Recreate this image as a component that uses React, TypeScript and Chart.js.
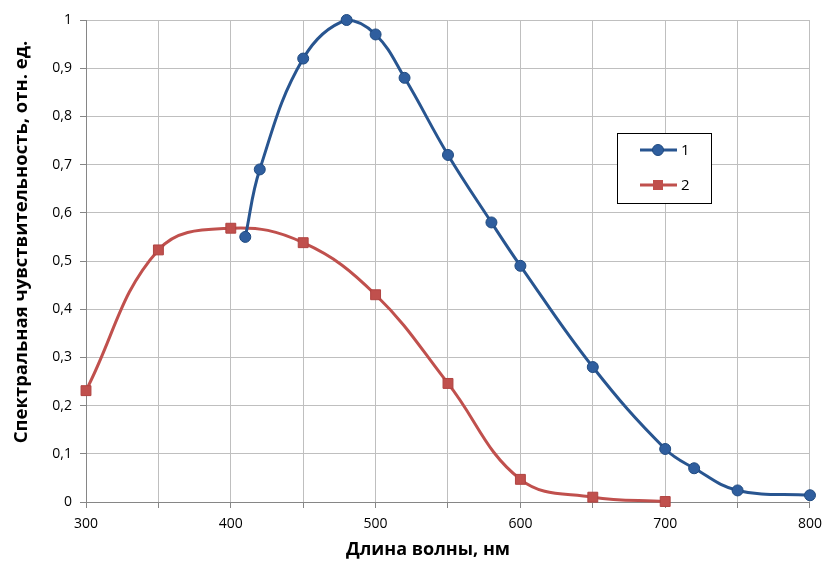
import React, { useEffect, useRef } from "react";
import { Chart, registerables } from "chart.js";

Chart.register(...registerables);

const wavelengths1 = [410, 420, 450, 480, 500, 520, 550, 580, 600, 650, 700, 720, 750, 800];
const values1 = [0.55, 0.69, 0.92, 1.0, 0.97, 0.88, 0.72, 0.58, 0.49, 0.28, 0.11, 0.07, 0.024, 0.014];
const wavelengths2 = [300, 350, 400, 450, 500, 550, 600, 650, 700];
const values2 = [0.231, 0.523, 0.568, 0.538, 0.43, 0.246, 0.047, 0.01, 0.001];
const seriesNames = ["1", "2"];
const xTitle = "Длина волны, нм";
const yTitle = "Спектральная чувствительность, отн. ед.";

const BLUE_LINE = "#285590";
const BLUE_FILL = "#2F5E9E";
const BLUE_BORDER = "#1F4A80";
const RED_LINE = "#C0504D";
const RED_FILL = "#C0504D";
const RED_BORDER = "#B04340";
const FONT = "'Open Sans', 'Noto Sans', sans-serif";

const titlesPlugin = {
  id: "axisTitles",
  afterDraw(chart: any) {
    const ctx = chart.ctx;
    ctx.save();
    ctx.fillStyle = "#000000";
    ctx.textAlign = "center";
    ctx.textBaseline = "middle";
    ctx.font = `bold 18px ${FONT}`;
    ctx.fillText(xTitle, 428, 550);
    ctx.translate(22, 242);
    ctx.rotate(-Math.PI / 2);
    ctx.font = `bold 18.5px ${FONT}`;
    ctx.fillText(yTitle, 0, 0);
    ctx.restore();
  },
};

const legendPlugin = {
  id: "boxLegend",
  afterDraw(chart: any) {
    const ctx = chart.ctx;
    const bx = 617, by = 133, bw = 94, bh = 70;
    ctx.save();
    ctx.fillStyle = "#ffffff";
    ctx.fillRect(bx, by, bw, bh);
    ctx.strokeStyle = "#000000";
    ctx.lineWidth = 1;
    ctx.strokeRect(bx + 0.5, by + 0.5, bw, bh);
    const rows = [
      { y: 150, color: BLUE_LINE, fill: BLUE_FILL, border: BLUE_BORDER, shape: "circle", label: seriesNames[0] },
      { y: 185, color: RED_LINE, fill: RED_FILL, border: RED_BORDER, shape: "rect", label: seriesNames[1] },
    ];
    rows.forEach((r) => {
      ctx.strokeStyle = r.color;
      ctx.lineWidth = 3;
      ctx.beginPath();
      ctx.moveTo(640, r.y);
      ctx.lineTo(677, r.y);
      ctx.stroke();
      ctx.fillStyle = r.fill;
      ctx.strokeStyle = r.border;
      ctx.lineWidth = 1;
      if (r.shape === "circle") {
        ctx.beginPath();
        ctx.arc(658, r.y, 5.5, 0, Math.PI * 2);
        ctx.fill();
        ctx.stroke();
      } else {
        ctx.fillRect(653, r.y - 5, 10, 10);
      }
      ctx.fillStyle = "#000000";
      ctx.font = `15px ${FONT}`;
      ctx.textBaseline = "middle";
      ctx.textAlign = "left";
      ctx.fillText(r.label, 681, r.y + 1);
    });
    ctx.restore();
  },
};

export default function App() {
  const ref = useRef<HTMLCanvasElement | null>(null);
  useEffect(() => {
    if (!ref.current) return;
    const chart = new Chart(ref.current, {
      type: "line",
      data: {
        datasets: [
          {
            label: seriesNames[0],
            data: wavelengths1.map((x, i) => ({ x, y: values1[i] })),
            borderColor: BLUE_LINE,
            backgroundColor: BLUE_FILL,
            pointBackgroundColor: BLUE_FILL,
            pointBorderColor: BLUE_BORDER,
            pointBorderWidth: 1,
            pointRadius: 5.5,
            pointStyle: "circle",
            borderWidth: 3,
            tension: 0.4,
            clip: false as any,
          },
          {
            label: seriesNames[1],
            data: wavelengths2.map((x, i) => ({ x, y: values2[i] })),
            borderColor: RED_LINE,
            backgroundColor: RED_FILL,
            pointBackgroundColor: RED_FILL,
            pointBorderColor: RED_BORDER,
            pointBorderWidth: 1,
            pointRadius: 7,
            pointStyle: "rect",
            borderWidth: 3,
            tension: 0.4,
            clip: false as any,
          },
        ],
      },
      options: {
        animation: false,
        responsive: false,
        maintainAspectRatio: false,
        layout: { padding: { top: 20, right: 17, left: 0, bottom: 0 } },
        plugins: { legend: { display: false }, tooltip: { enabled: false } },
        scales: {
          x: {
            type: "linear",
            min: 300,
            max: 800,
            ticks: {
              stepSize: 50,
              autoSkip: false,
              maxRotation: 0,
              color: "#000000",
              font: { family: FONT, size: 14 },
              padding: 8,
              callback: (v: any) => (Number(v) % 100 === 0 ? String(v) : ""),
            },
            grid: { color: "#BFBFBF", lineWidth: 1, tickLength: 6, tickColor: "#868686" },
            border: { color: "#868686", width: 1 },
            afterFit: (s: any) => { s.height = 64; },
          },
          y: {
            type: "linear",
            min: 0,
            max: 1,
            ticks: {
              stepSize: 0.1,
              color: "#000000",
              font: { family: FONT, size: 14 },
              padding: 8,
              callback: (v: any) => String(Math.round(Number(v) * 10) / 10).replace(".", ","),
            },
            grid: { color: "#BFBFBF", lineWidth: 1, tickLength: 6, tickColor: "#868686" },
            border: { color: "#868686", width: 1 },
            afterFit: (s: any) => { s.width = 86; },
          },
        },
      },
      plugins: [legendPlugin, titlesPlugin],
    });
    return () => chart.destroy();
  }, []);
  return (
    <div style={{ position: "fixed", left: 0, top: 0, width: 830, height: 566, background: "#fff" }}>
      <canvas ref={ref} width={830} height={566} style={{ width: 830, height: 566 }} />
    </div>
  );
}
